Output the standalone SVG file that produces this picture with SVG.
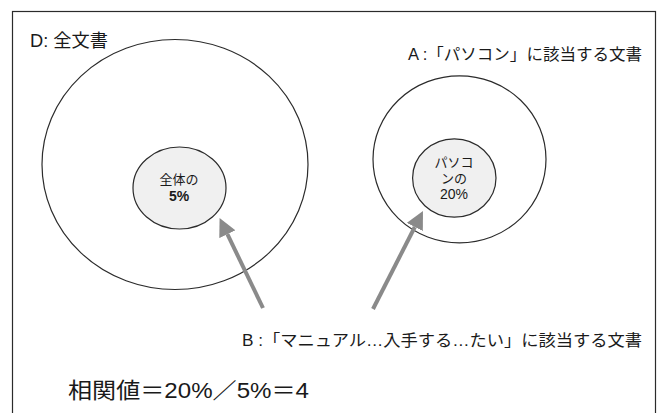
<svg xmlns="http://www.w3.org/2000/svg" width="664" height="413" viewBox="0 0 664 413">
<defs>
<style>
.t{font-family:"Liberation Sans","Noto Sans CJK JP",sans-serif;fill:#1a1a1a}
.ring{fill:#ffffff;stroke:#2b2b2b;stroke-width:1.2}
.core{fill:#f0f0f0;stroke:#2b2b2b;stroke-width:1.2}
.arr{stroke:#8a8a8a;stroke-width:4;fill:none}
</style>
<marker id="head" markerUnits="userSpaceOnUse" markerWidth="18" markerHeight="18" refX="0" refY="9" orient="auto" viewBox="0 0 18 18">
<path d="M0,0 L18,9 L0,18 z" fill="#8a8a8a"/>
</marker>
</defs>
<rect x="0" y="0" width="664" height="413" fill="#ffffff"/>
<rect x="12.5" y="11.5" width="643" height="420" fill="none" stroke="#2b2b2b" stroke-width="1.2"/>
<g id="D">
<ellipse class="ring" cx="175" cy="164.5" rx="133" ry="125"/>
<text class="t" x="30" y="47" font-size="18" textLength="78" lengthAdjust="spacingAndGlyphs">D: 全文書</text>
</g>
<g id="D-core">
<ellipse class="core" cx="179.5" cy="188" rx="46.5" ry="41"/>
<text class="t" x="179" y="184" font-size="13" text-anchor="middle">全体の</text>
<text class="t" x="179" y="201" font-size="14" font-weight="bold" text-anchor="middle">5%</text>
</g>
<g id="A">
<ellipse class="ring" cx="459.5" cy="159.3" rx="86.5" ry="83.5"/>
<text class="t" x="408" y="60" font-size="16" textLength="234" lengthAdjust="spacingAndGlyphs">A :「パソコン」に該当する文書</text>
</g>
<g id="A-core">
<ellipse class="core" cx="454.3" cy="178" rx="41.7" ry="39.2"/>
<text class="t" x="454" y="166.5" font-size="13" text-anchor="middle">パソコ</text>
<text class="t" x="454" y="182.5" font-size="13" text-anchor="middle">ンの</text>
<text class="t" x="454" y="199" font-size="14" text-anchor="middle">20%</text>
</g>
<g id="B">
<text class="t" x="242" y="346" font-size="16" textLength="400" lengthAdjust="spacingAndGlyphs">B :「マニュアル…入手する…たい」に該当する文書</text>
</g>
<g id="connectors">
<line class="arr" x1="263" y1="308" x2="227.4" y2="234.2" marker-end="url(#head)"/>
<line class="arr" x1="373" y1="309" x2="414.8" y2="227" marker-end="url(#head)"/>
</g>
<g id="formula">
<text class="t" x="68" y="398" font-size="22" textLength="241" lengthAdjust="spacingAndGlyphs">相関値＝20%／5%＝4</text>
</g>
</svg>
